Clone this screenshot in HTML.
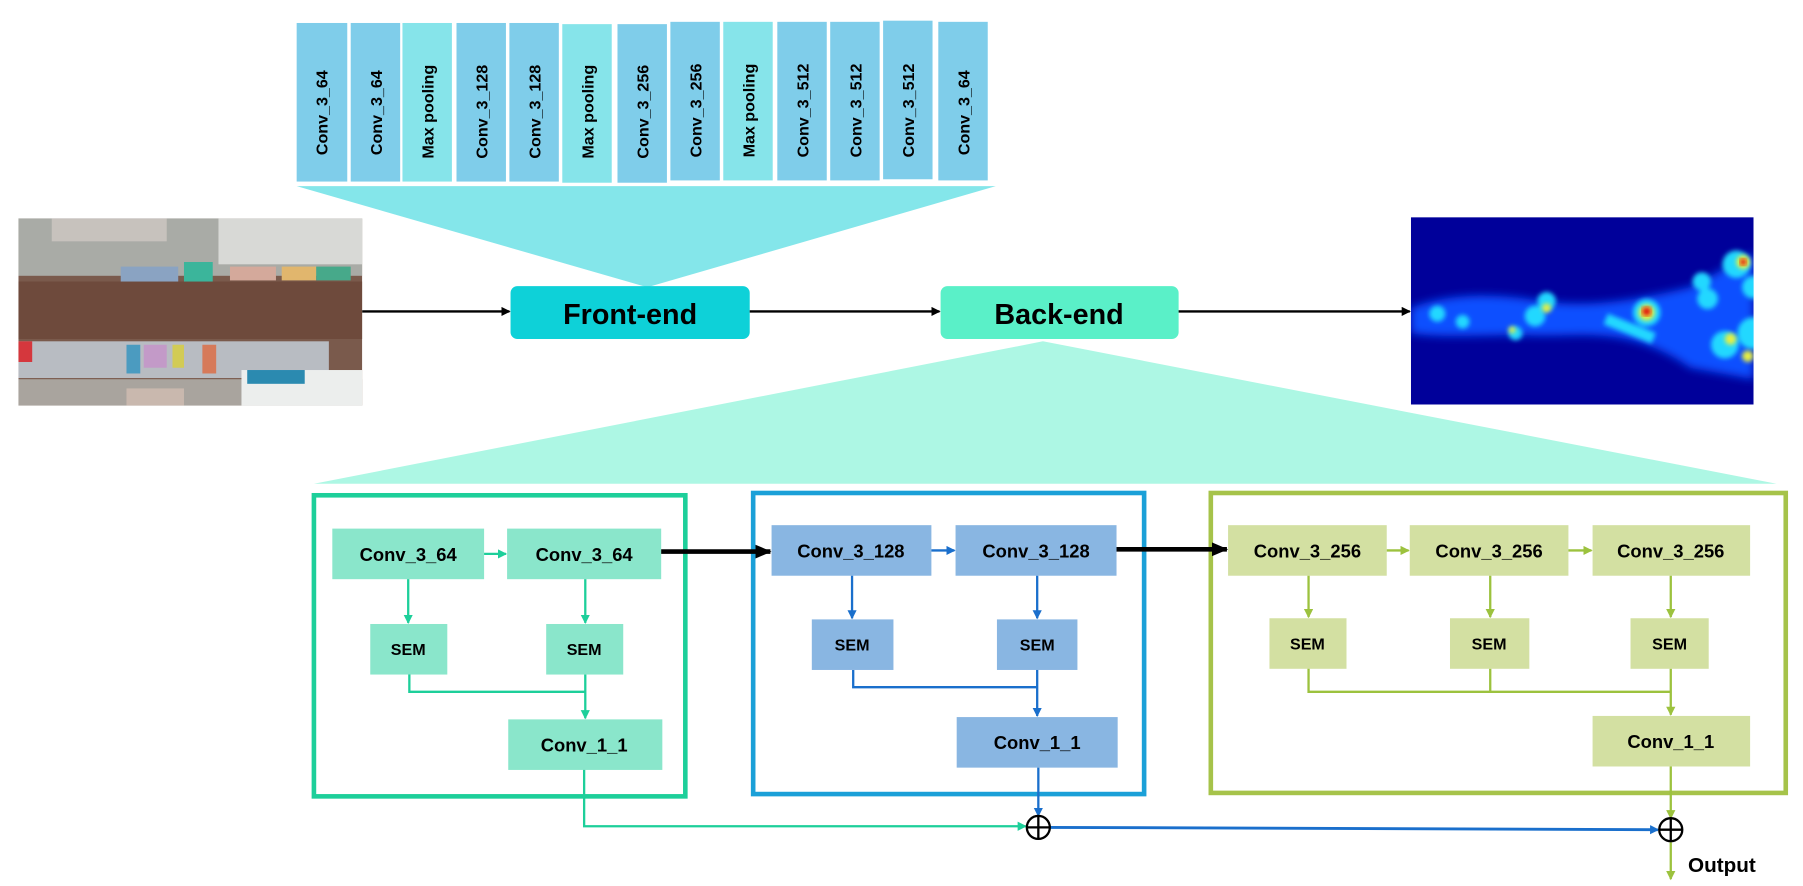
<!DOCTYPE html>
<html><head><meta charset="utf-8"><style>
html,body{margin:0;padding:0;background:#fff;width:1803px;height:886px;overflow:hidden}
svg{display:block}
text{font-family:"Liberation Sans",sans-serif;font-weight:bold;fill:#000}
</style></head><body>
<svg width="1803" height="886" viewBox="0 0 1568 771" preserveAspectRatio="none" xmlns="http://www.w3.org/2000/svg">
<defs>
<marker id="ab" markerWidth="8" markerHeight="8" refX="7" refY="4" orient="auto" markerUnits="userSpaceOnUse"><path d="M0,0 L8,4 L0,8 z" fill="#000"/></marker>
<marker id="abk" markerWidth="14" markerHeight="12" refX="13" refY="6" orient="auto" markerUnits="userSpaceOnUse"><path d="M0,0 L14,6 L0,12 z" fill="#000"/></marker>
<marker id="ag" markerWidth="8" markerHeight="8" refX="7" refY="4" orient="auto" markerUnits="userSpaceOnUse"><path d="M0,0 L8,4 L0,8 z" fill="#1dcf9a"/></marker>
<marker id="abl" markerWidth="8" markerHeight="8" refX="7" refY="4" orient="auto" markerUnits="userSpaceOnUse"><path d="M0,0 L8,4 L0,8 z" fill="#1a6fcc"/></marker>
<marker id="ao" markerWidth="8" markerHeight="8" refX="7" refY="4" orient="auto" markerUnits="userSpaceOnUse"><path d="M0,0 L8,4 L0,8 z" fill="#9cc23e"/></marker>
<filter id="bl" x="-20%" y="-50%" width="140%" height="200%"><feGaussianBlur stdDeviation="4"/></filter>
<filter id="bl2"><feGaussianBlur stdDeviation="2"/></filter>
<clipPath id="hc"><rect x="1227" y="189" width="298" height="163"/></clipPath>
<clipPath id="pc"><rect x="16" y="190" width="299" height="163"/></clipPath>
</defs>

<!-- front-end columns -->
<g>
<rect x="258" y="20" width="44" height="138" fill="#7fcdea"/>
<rect x="305" y="20" width="43" height="138" fill="#7fcdea"/>
<rect x="350" y="20" width="43" height="138" fill="#86e4ea"/>
<rect x="397" y="20" width="43" height="138" fill="#7fcdea"/>
<rect x="443" y="20" width="43" height="138" fill="#7fcdea"/>
<rect x="489" y="21" width="43" height="138" fill="#86e4ea"/>
<rect x="537" y="21" width="43" height="138" fill="#7fcdea"/>
<rect x="583" y="19" width="43" height="138" fill="#7fcdea"/>
<rect x="629" y="19" width="43" height="138" fill="#86e4ea"/>
<rect x="676" y="19" width="43" height="138" fill="#7fcdea"/>
<rect x="722" y="19" width="43" height="138" fill="#7fcdea"/>
<rect x="768" y="18" width="43" height="138" fill="#7fcdea"/>
<rect x="816" y="19" width="43" height="138" fill="#7fcdea"/>
</g>
<g font-size="14">
<text transform="translate(285,135) rotate(-90)">Conv_3_64</text>
<text transform="translate(332,135) rotate(-90)">Conv_3_64</text>
<text transform="translate(377,138) rotate(-90)">Max pooling</text>
<text transform="translate(424,138) rotate(-90)">Conv_3_128</text>
<text transform="translate(470,138) rotate(-90)">Conv_3_128</text>
<text transform="translate(516,138) rotate(-90)">Max pooling</text>
<text transform="translate(564,138) rotate(-90)">Conv_3_256</text>
<text transform="translate(610,137) rotate(-90)">Conv_3_256</text>
<text transform="translate(656,137) rotate(-90)">Max pooling</text>
<text transform="translate(703,137) rotate(-90)">Conv_3_512</text>
<text transform="translate(749,137) rotate(-90)">Conv_3_512</text>
<text transform="translate(795,137) rotate(-90)">Conv_3_512</text>
<text transform="translate(843,135) rotate(-90)">Conv_3_64</text>
</g>
<polygon points="258,162 866,162 563,250" fill="#84e6ea"/>

<!-- photo -->
<g clip-path="url(#pc)">
<rect x="16" y="190" width="299" height="163" fill="#7a5a4c"/>
<rect x="16" y="190" width="299" height="50" fill="#a9aba6"/>
<rect x="190" y="190" width="125" height="40" fill="#d8d9d6"/>
<rect x="45" y="190" width="100" height="20" fill="#c7c2bd"/>
<rect x="105" y="232" width="50" height="14" fill="#8aa3c2"/>
<rect x="160" y="228" width="25" height="20" fill="#3bb59b"/>
<rect x="200" y="232" width="40" height="12" fill="#d4a99b"/>
<rect x="245" y="232" width="30" height="12" fill="#e1b66d"/>
<rect x="275" y="232" width="30" height="12" fill="#47a98a"/>
<rect x="16" y="245" width="299" height="50" fill="#6e4a3c"/>
<rect x="16" y="297" width="270" height="32" fill="#b8bcc2"/>
<rect x="16" y="297" width="12" height="18" fill="#d5373d"/>
<rect x="110" y="300" width="12" height="25" fill="#4b9bc0"/>
<rect x="125" y="300" width="20" height="20" fill="#c39ac8"/>
<rect x="150" y="300" width="10" height="20" fill="#d2cb55"/>
<rect x="176" y="300" width="12" height="25" fill="#d67a5a"/>
<rect x="16" y="330" width="299" height="23" fill="#a9a49e"/>
<rect x="210" y="322" width="105" height="31" fill="#eceeed"/>
<rect x="215" y="322" width="50" height="12" fill="#2b8ab0"/>
<rect x="110" y="338" width="50" height="15" fill="#c9b8ae"/>
</g>

<!-- heatmap -->
<g clip-path="url(#hc)">
<rect x="1227" y="189" width="298" height="163" fill="#00009a"/>
<g filter="url(#bl)">
<path d="M1227,268 C1260,255 1300,255 1340,262 C1380,268 1420,262 1470,250 L1525,220 L1525,330 L1470,320 C1420,285 1380,292 1340,292 C1300,290 1260,295 1227,290 z" fill="#1050ff"/>
</g>
<g filter="url(#bl2)" fill="#20d8ff">
<circle cx="1250" cy="273" r="7"/><circle cx="1272" cy="280" r="6"/>
<circle cx="1335" cy="275" r="9"/><circle cx="1345" cy="262" r="8"/><circle cx="1318" cy="290" r="6"/>
<rect x="1395" y="280" width="45" height="10" transform="rotate(22 1415 285)"/>
<circle cx="1432" cy="272" r="12"/>
<circle cx="1485" cy="260" r="9"/><circle cx="1500" cy="300" r="12"/><circle cx="1525" cy="290" r="14"/>
<circle cx="1510" cy="230" r="12"/><circle cx="1525" cy="250" r="10"/><circle cx="1480" cy="245" r="8"/>
</g>
<g filter="url(#bl2)" fill="#e8f040">
<circle cx="1345" cy="268" r="4"/><circle cx="1315" cy="287" r="3"/>
<circle cx="1432" cy="272" r="7"/><circle cx="1505" cy="295" r="5"/><circle cx="1516" cy="228" r="6"/><circle cx="1520" cy="310" r="5"/>
</g>
<circle cx="1432" cy="271" r="4" fill="#e01010" filter="url(#bl2)"/>
<circle cx="1516" cy="228" r="3" fill="#e01010" filter="url(#bl2)"/>
</g>

<!-- top flow -->
<rect x="444" y="249" width="208" height="46" rx="6" fill="#0ed1d8"/>
<text x="548" y="282" font-size="25" text-anchor="middle">Front-end</text>
<rect x="818" y="249" width="207" height="46" rx="6" fill="#5af0c8"/>
<text x="921" y="282" font-size="25" text-anchor="middle">Back-end</text>
<g stroke="#000" stroke-width="2">
<line x1="315" y1="271" x2="443" y2="271" marker-end="url(#ab)"/>
<line x1="652" y1="271" x2="817" y2="271" marker-end="url(#ab)"/>
<line x1="1025" y1="271" x2="1226" y2="271" marker-end="url(#ab)"/>
</g>
<polygon points="907,297 1545,421 273,421" fill="#adf7e4"/>

<!-- boxes -->
<rect x="273" y="431" width="323" height="262" fill="none" stroke="#1dcf9a" stroke-width="4"/>
<rect x="655" y="429" width="340" height="262" fill="none" stroke="#1ba0d8" stroke-width="4"/>
<rect x="1053" y="429" width="500" height="261" fill="none" stroke="#a6c34a" stroke-width="4"/>

<!-- box1 -->
<g fill="#8ae6cb">
<rect x="289" y="460" width="132" height="44"/><rect x="441" y="460" width="134" height="44"/>
<rect x="322" y="543" width="67" height="44"/><rect x="475" y="543" width="67" height="44"/>
<rect x="442" y="626" width="134" height="44"/>
</g>
<!-- box2 -->
<g fill="#89b6e2">
<rect x="671" y="457" width="139" height="44"/><rect x="831" y="457" width="140" height="44"/>
<rect x="706" y="539" width="71" height="44"/><rect x="867" y="539" width="70" height="44"/>
<rect x="832" y="624" width="140" height="44"/>
</g>
<!-- box3 -->
<g fill="#d3e0a2">
<rect x="1068" y="457" width="138" height="44"/><rect x="1226" y="457" width="138" height="44"/><rect x="1385" y="457" width="137" height="44"/>
<rect x="1104" y="538" width="67" height="44"/><rect x="1261" y="538" width="69" height="44"/><rect x="1418" y="538" width="68" height="44"/>
<rect x="1385" y="623" width="137" height="44"/>
</g>
<g font-size="16" text-anchor="middle">
<text x="355" y="488">Conv_3_64</text><text x="508" y="488">Conv_3_64</text>
<text x="508" y="654">Conv_1_1</text>
<text x="740" y="485">Conv_3_128</text><text x="901" y="485">Conv_3_128</text>
<text x="902" y="652">Conv_1_1</text>
<text x="1137" y="485">Conv_3_256</text><text x="1295" y="485">Conv_3_256</text><text x="1453" y="485">Conv_3_256</text>
<text x="1453" y="651">Conv_1_1</text>
</g>
<g font-size="14" text-anchor="middle">
<text x="355" y="570">SEM</text><text x="508" y="570">SEM</text>
<text x="741" y="566">SEM</text><text x="902" y="566">SEM</text>
<text x="1137" y="565">SEM</text><text x="1295" y="565">SEM</text><text x="1452" y="565">SEM</text>
</g>

<!-- thick arrows -->
<g stroke="#000" stroke-width="4">
<line x1="575" y1="480" x2="670" y2="480" marker-end="url(#abk)"/>
<line x1="971" y1="478" x2="1067" y2="478" marker-end="url(#abk)"/>
</g>

<!-- green connectors -->
<g stroke="#1dcf9a" stroke-width="2" fill="none">
<line x1="421" y1="482" x2="440" y2="482" marker-end="url(#ag)"/>
<line x1="355" y1="504" x2="355" y2="542" marker-end="url(#ag)"/>
<line x1="509" y1="504" x2="509" y2="542" marker-end="url(#ag)"/>
<polyline points="356,587 356,602 509,602"/>
<line x1="509" y1="587" x2="509" y2="625" marker-end="url(#ag)"/>
<polyline points="508,670 508,719 892,719" marker-end="url(#ag)"/>
</g>
<!-- blue connectors -->
<g stroke="#1a6fcc" stroke-width="2" fill="none">
<line x1="810" y1="479" x2="830" y2="479" marker-end="url(#abl)"/>
<line x1="741" y1="501" x2="741" y2="538" marker-end="url(#abl)"/>
<line x1="902" y1="501" x2="902" y2="538" marker-end="url(#abl)"/>
<polyline points="742,583 742,598 902,598"/>
<line x1="902" y1="583" x2="902" y2="623" marker-end="url(#abl)"/>
<line x1="903" y1="668" x2="903" y2="710" marker-end="url(#abl)"/>
<line x1="913" y1="720" x2="1442" y2="722" stroke-width="2.5" marker-end="url(#abl)"/>
</g>
<!-- olive connectors -->
<g stroke="#9cc23e" stroke-width="2" fill="none">
<line x1="1206" y1="479" x2="1225" y2="479" marker-end="url(#ao)"/>
<line x1="1364" y1="479" x2="1384" y2="479" marker-end="url(#ao)"/>
<line x1="1138" y1="501" x2="1138" y2="537" marker-end="url(#ao)"/>
<line x1="1296" y1="501" x2="1296" y2="537" marker-end="url(#ao)"/>
<line x1="1453" y1="501" x2="1453" y2="537" marker-end="url(#ao)"/>
<polyline points="1138,582 1138,602 1453,602"/>
<line x1="1296" y1="582" x2="1296" y2="602"/>
<line x1="1453" y1="582" x2="1453" y2="622" marker-end="url(#ao)"/>
<line x1="1453" y1="667" x2="1453" y2="712" marker-end="url(#ao)"/>
<line x1="1453" y1="733" x2="1453" y2="765" marker-end="url(#ao)"/>
</g>
<!-- sum nodes -->
<g stroke="#000" stroke-width="2" fill="#fff">
<circle cx="903" cy="720" r="10"/><line x1="893" y1="720" x2="913" y2="720"/><line x1="903" y1="710" x2="903" y2="730"/>
<circle cx="1453" cy="722" r="10"/><line x1="1443" y1="722" x2="1463" y2="722"/><line x1="1453" y1="712" x2="1453" y2="732"/>
</g>
<text x="1468" y="759" font-size="18">Output</text>
</svg>
</body></html>
